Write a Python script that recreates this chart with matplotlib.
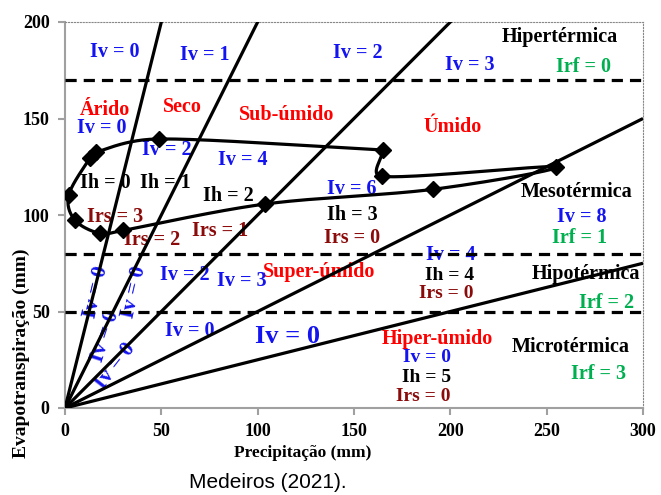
import numpy as np
import matplotlib
matplotlib.use("Agg")
import matplotlib.pyplot as plt

# razoes ET/P das retas que partem da origem
razoes = [4, 2, 1, 0.5, 0.25]
# limites termicos (mm)
limites_et = [170, 80, 50]

# pontos mensais (precipitacao, evapotranspiracao), serie aberta que volta ao inicio
prec = [165, 164.5, 255, 191, 104, 30, 18, 5, 2, 13, 16, 49, 165]
evap = [133.7, 120, 125, 113.3, 105.7, 92, 90.5, 97.5, 110.5, 129.5, 132.5, 139.4, 133.7]

azul = "#1414F0"
verm = "#FF0000"
marrom = "#8B0A0A"
verde = "#00B050"
preto = "black"

# rotulos: texto, x, y, cor, tamanho
rotulos = [
    ("Iv = 0", 26, 184.5, azul, 14.5),
    ("Iv = 1", 72.6, 183, azul, 14.5),
    ("Iv = 2", 152, 184, azul, 14.5),
    ("Iv = 3", 210, 177.7, azul, 14.5),
    ("Hipertérmica", 257, 192, preto, 14.5),
    ("Irf = 0", 269, 176.7, verde, 14.5),
    ("Árido", 20.8, 154.4, verm, 14.5),
    ("Seco", 60.7, 156, verm, 14.5),
    ("Sub-úmido", 115, 151.8, verm, 14.5),
    ("Úmido", 201, 145.6, verm, 14.5),
    ("Iv = 0", 19.2, 145, azul, 14.5),
    ("Iv = 2", 53, 133.7, azul, 14.5),
    ("Iv = 4", 92, 128.5, azul, 14.5),
    ("Ih = 0", 20.8, 116.6, preto, 14.5),
    ("Ih = 1", 52, 116.6, preto, 14.5),
    ("Ih = 2", 84.6, 110, preto, 14.5),
    ("Iv = 6", 149, 113.5, azul, 14.5),
    ("Mesotérmica", 265.7, 112, preto, 14.5),
    ("Iv = 8", 268, 99, azul, 14.5),
    ("Irf = 1", 267, 88, verde, 14.5),
    ("Irs = 3", 26, 99, marrom, 14.5),
    ("Irs = 2", 45, 87, marrom, 14.5),
    ("Irs = 1", 80.4, 91.7, marrom, 14.5),
    ("Ih = 3", 149, 100, preto, 14.5),
    ("Irs = 0", 149, 88, marrom, 14.5),
    ("Iv = 4", 200, 79.5, azul, 14.5),
    ("Ih = 4", 199.8, 68.6, preto, 14),
    ("Irs = 0", 198, 59.4, marrom, 14),
    ("Super-úmido", 131.8, 70.5, verm, 14.5),
    ("Hipotérmica", 270.6, 69.4, preto, 14.5),
    ("Irf = 2", 281, 54.6, verde, 14.5),
    ("Iv = 2", 62, 69, azul, 14.5),
    ("Iv = 3", 92, 66, azul, 14.5),
    ("Iv = 0", 65, 40, azul, 14.5),
    ("Iv = 0", 115.7, 37.3, azul, 19),
    ("Hiper-úmido", 193.4, 35.7, verm, 14.5),
    ("Iv = 0", 188, 26, azul, 14),
    ("Ih = 5", 187.5, 15.7, preto, 14),
    ("Irs = 0", 186, 6.2, marrom, 14),
    ("Microtérmica", 262.3, 31.6, preto, 14.5),
    ("Irf = 3", 276.9, 17.6, verde, 14.5),
]
# rotulos inclinados: x, y, angulo
inclinados = [(16, 60, 77), (36, 60, 77), (21, 37, 72), (26, 22, 52)]


def suaviza_excel(px, py, n=40):
    # curva de Bezier com pontos de controle limitados, como a linha suavizada do Excel
    pts = np.column_stack([px, py]).astype(float)
    m = len(pts)
    t = np.linspace(0, 1, n)[:, None]
    xs, ys = [], []
    for i in range(m - 1):
        p1, p2 = pts[i], pts[i + 1]
        p0 = pts[i - 1] if i > 0 else p1
        p3 = pts[i + 2] if i + 2 < m else p2
        d12 = np.linalg.norm(p2 - p1)
        o1 = (p2 - p0) * (1 / 3 if i == 0 else 1 / 6)
        o2 = (p3 - p1) * (1 / 3 if i + 2 >= m else 1 / 6)
        for o in (o1, o2):
            L = np.linalg.norm(o)
            if L > d12 / 2:
                o *= d12 / 2 / L
        b1 = p1 + o1
        b2 = p2 - o2
        c = (1 - t) ** 3 * p1 + 3 * (1 - t) ** 2 * t * b1 + 3 * (1 - t) * t ** 2 * b2 + t ** 3 * p2
        xs.append(c[:, 0])
        ys.append(c[:, 1])
    return np.concatenate(xs), np.concatenate(ys)


plt.rcParams["font.family"] = "Liberation Serif"
plt.rcParams["font.weight"] = "bold"

fig = plt.figure(figsize=(6.61, 4.95), dpi=100)
ax = fig.add_axes([65 / 661, 1 - 408 / 495, 578 / 661, 386 / 495])
ax.set_xlim(0, 300)
ax.set_ylim(0, 200)

xr = np.array([0, 300])
for r in razoes:
    ax.plot(xr, r * xr, color="black", lw=2.3, zorder=3, solid_capstyle="butt")

for h in limites_et:
    ax.axhline(h, color="black", lw=2.3, ls=(0, (3.5, 2.2)), zorder=3)

cx, cy = suaviza_excel(prec, evap)
ax.plot(cx, cy, color="black", lw=2.3, zorder=4)
ax.plot(prec[:-1], evap[:-1], ls="none", marker="D", ms=8.5, color="black", zorder=5)

for txt, x, y, cor, tam in rotulos:
    ax.text(x, y, txt, color=cor, fontsize=tam, fontweight="bold",
            ha="center", va="center", zorder=2)
for x, y, ang in inclinados:
    ax.text(x, y, "Iv = 0", color=azul, fontsize=15.5, fontweight="bold",
            ha="center", va="center", rotation=ang, rotation_mode="anchor", zorder=2)

ax.set_xticks([0, 50, 100, 150, 200, 250, 300])
ax.set_yticks([0, 50, 100, 150, 200])
ax.tick_params(direction="out", length=5, width=1.5, color="#A0A0A0",
               labelsize=13, pad=6)
for lab in ax.get_xticklabels() + ax.get_yticklabels():
    lab.set_fontweight("bold")
for lado in ["left", "bottom"]:
    ax.spines[lado].set_color("#A0A0A0")
    ax.spines[lado].set_linewidth(1.5)
for lado in ["top", "right"]:
    ax.spines[lado].set_color("#888888")
    ax.spines[lado].set_linewidth(0.8)
    ax.spines[lado].set_linestyle(":")

fig.text(303 / 661, 1 - 453 / 495, "Precipitação (mm)", ha="center", va="center",
         fontsize=12.5, fontweight="bold")
fig.text(21 / 661, 1 - 353 / 495, "Evapotranspiração (mm)", ha="center", va="center",
         rotation=90, fontsize=14, fontweight="bold")
fig.text(268 / 661, 1 - 482 / 495, "Medeiros (2021).", ha="center", va="center",
         fontsize=15, fontweight="normal", family="Liberation Sans")

fig.savefig("out.png", dpi=100)
